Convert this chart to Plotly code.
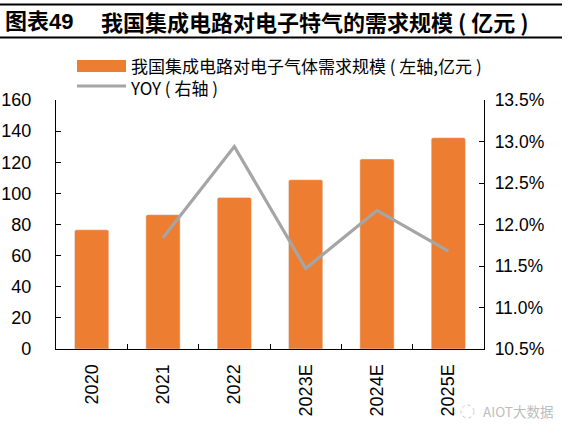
import plotly.graph_objects as go

categories = ["2020", "2021", "2022", "2023E", "2024E", "2025E"]
demand = [76.6, 86.3, 97.4, 108.8, 122.1, 135.8]
yoy = [None, 11.84, 12.94, 11.47, 12.17, 11.68]
left_ticks = [0, 20, 40, 60, 80, 100, 120, 140, 160]
right_ticks = [10.5, 11.0, 11.5, 12.0, 12.5, 13.0, 13.5]
right_labels = [f"{v:.1f}%" for v in right_ticks]

W, H = 574, 437
L, R, T, B = 56, 90, 100, 88
PW, PH = W - L - R, H - T - B

def px(x):
    return (x - L) / PW

def py(y):
    return (H - B - y) / PH

ORANGE = "#ED7D31"
GRAY = "#A5A5A5"
FONT = "Liberation Sans, Arial, Noto Sans CJK SC, sans-serif"
CJK = "Noto Sans CJK SC"

fig = go.Figure()
fig.add_trace(go.Bar(x=categories, y=demand, marker=dict(color=ORANGE, cornerradius=2),
                     name="我国集成电路对电子气体需求规模（左轴,亿元）", yaxis="y"))
fig.add_trace(go.Scatter(x=categories, y=yoy, mode="lines", line=dict(color=GRAY, width=3.2),
                         name="YOY（右轴）", yaxis="y2"))

axis_common = dict(showgrid=False, zeroline=False, showline=True, linecolor="black", linewidth=1.3,
                   ticks="inside", ticklen=5, tickcolor="black", tickwidth=1.3,
                   tickfont=dict(family=FONT, size=18, color="black"))

fig.update_layout(
    width=W, height=H,
    margin=dict(l=L, r=R, t=T, b=B, autoexpand=False),
    paper_bgcolor="white", plot_bgcolor="white",
    showlegend=False,
    bargap=0.52,
    xaxis=dict(**axis_common, type="category", tickson="boundaries", tickangle=-90,
               ticklabelstandoff=7),
    yaxis=dict(**axis_common, range=[0, 160], tickvals=left_ticks, ticklabelstandoff=20),
    yaxis2=dict(**{**axis_common, "tickfont": dict(family=FONT, size=17.5, color="black")},
                overlaying="y", side="right", range=[10.5, 13.5], tickvals=right_ticks,
                ticktext=right_labels, ticklabelstandoff=6),
)

# title bar lines
for yy in (4.5, 37.5):
    fig.add_shape(type="line", xref="paper", yref="paper", x0=px(0), x1=px(562), y0=py(yy), y1=py(yy),
                  line=dict(color="black", width=2.2))

fig.add_annotation(xref="paper", yref="paper", x=px(3), y=py(21), xanchor="left", yanchor="middle",
                   text="<b>图表49</b>", showarrow=False,
                   font=dict(family=FONT, size=22, color="black"))
fig.add_annotation(xref="paper", yref="paper", x=px(99), y=py(21), xanchor="left", yanchor="middle",
                   text="<b>我国集成电路对电子特气的需求规模 ( 亿元 )</b>", showarrow=False,
                   font=dict(family=CJK, size=22, color="black"))

# legend (custom)
fig.add_shape(type="rect", xref="paper", yref="paper", x0=px(77), x1=px(126), y0=py(72), y1=py(60),
              fillcolor=ORANGE, line=dict(width=0))
fig.add_shape(type="line", xref="paper", yref="paper", x0=px(77), x1=px(126), y0=py(86), y1=py(86),
              line=dict(color=GRAY, width=3.2))
fig.add_annotation(xref="paper", yref="paper", x=px(128), y=py(77), xanchor="left", yanchor="middle",
                   align="left",
                   text="我国集成电路对电子气体需求规模 ( 左轴,亿元 )<br>YOY ( 右轴 )", showarrow=False,
                   font=dict(family=CJK, size=17, color="black"))

# watermark
fig.add_shape(type="circle", xref="paper", yref="paper", x0=px(461), x1=px(474), y0=py(418), y1=py(405),
              line=dict(color="#c8c8c8", width=1, dash="dot"))
fig.add_annotation(xref="paper", yref="paper", x=px(481), y=py(411), xanchor="left", yanchor="middle",
                   text="AIOT大数据", showarrow=False,
                   font=dict(family=CJK, size=13.5, color="#bdbdbd"))

fig.write_html("out.html", config={"displayModeBar": False},
               post_script="document.body.style.margin='0';document.body.style.overflow='hidden';")
